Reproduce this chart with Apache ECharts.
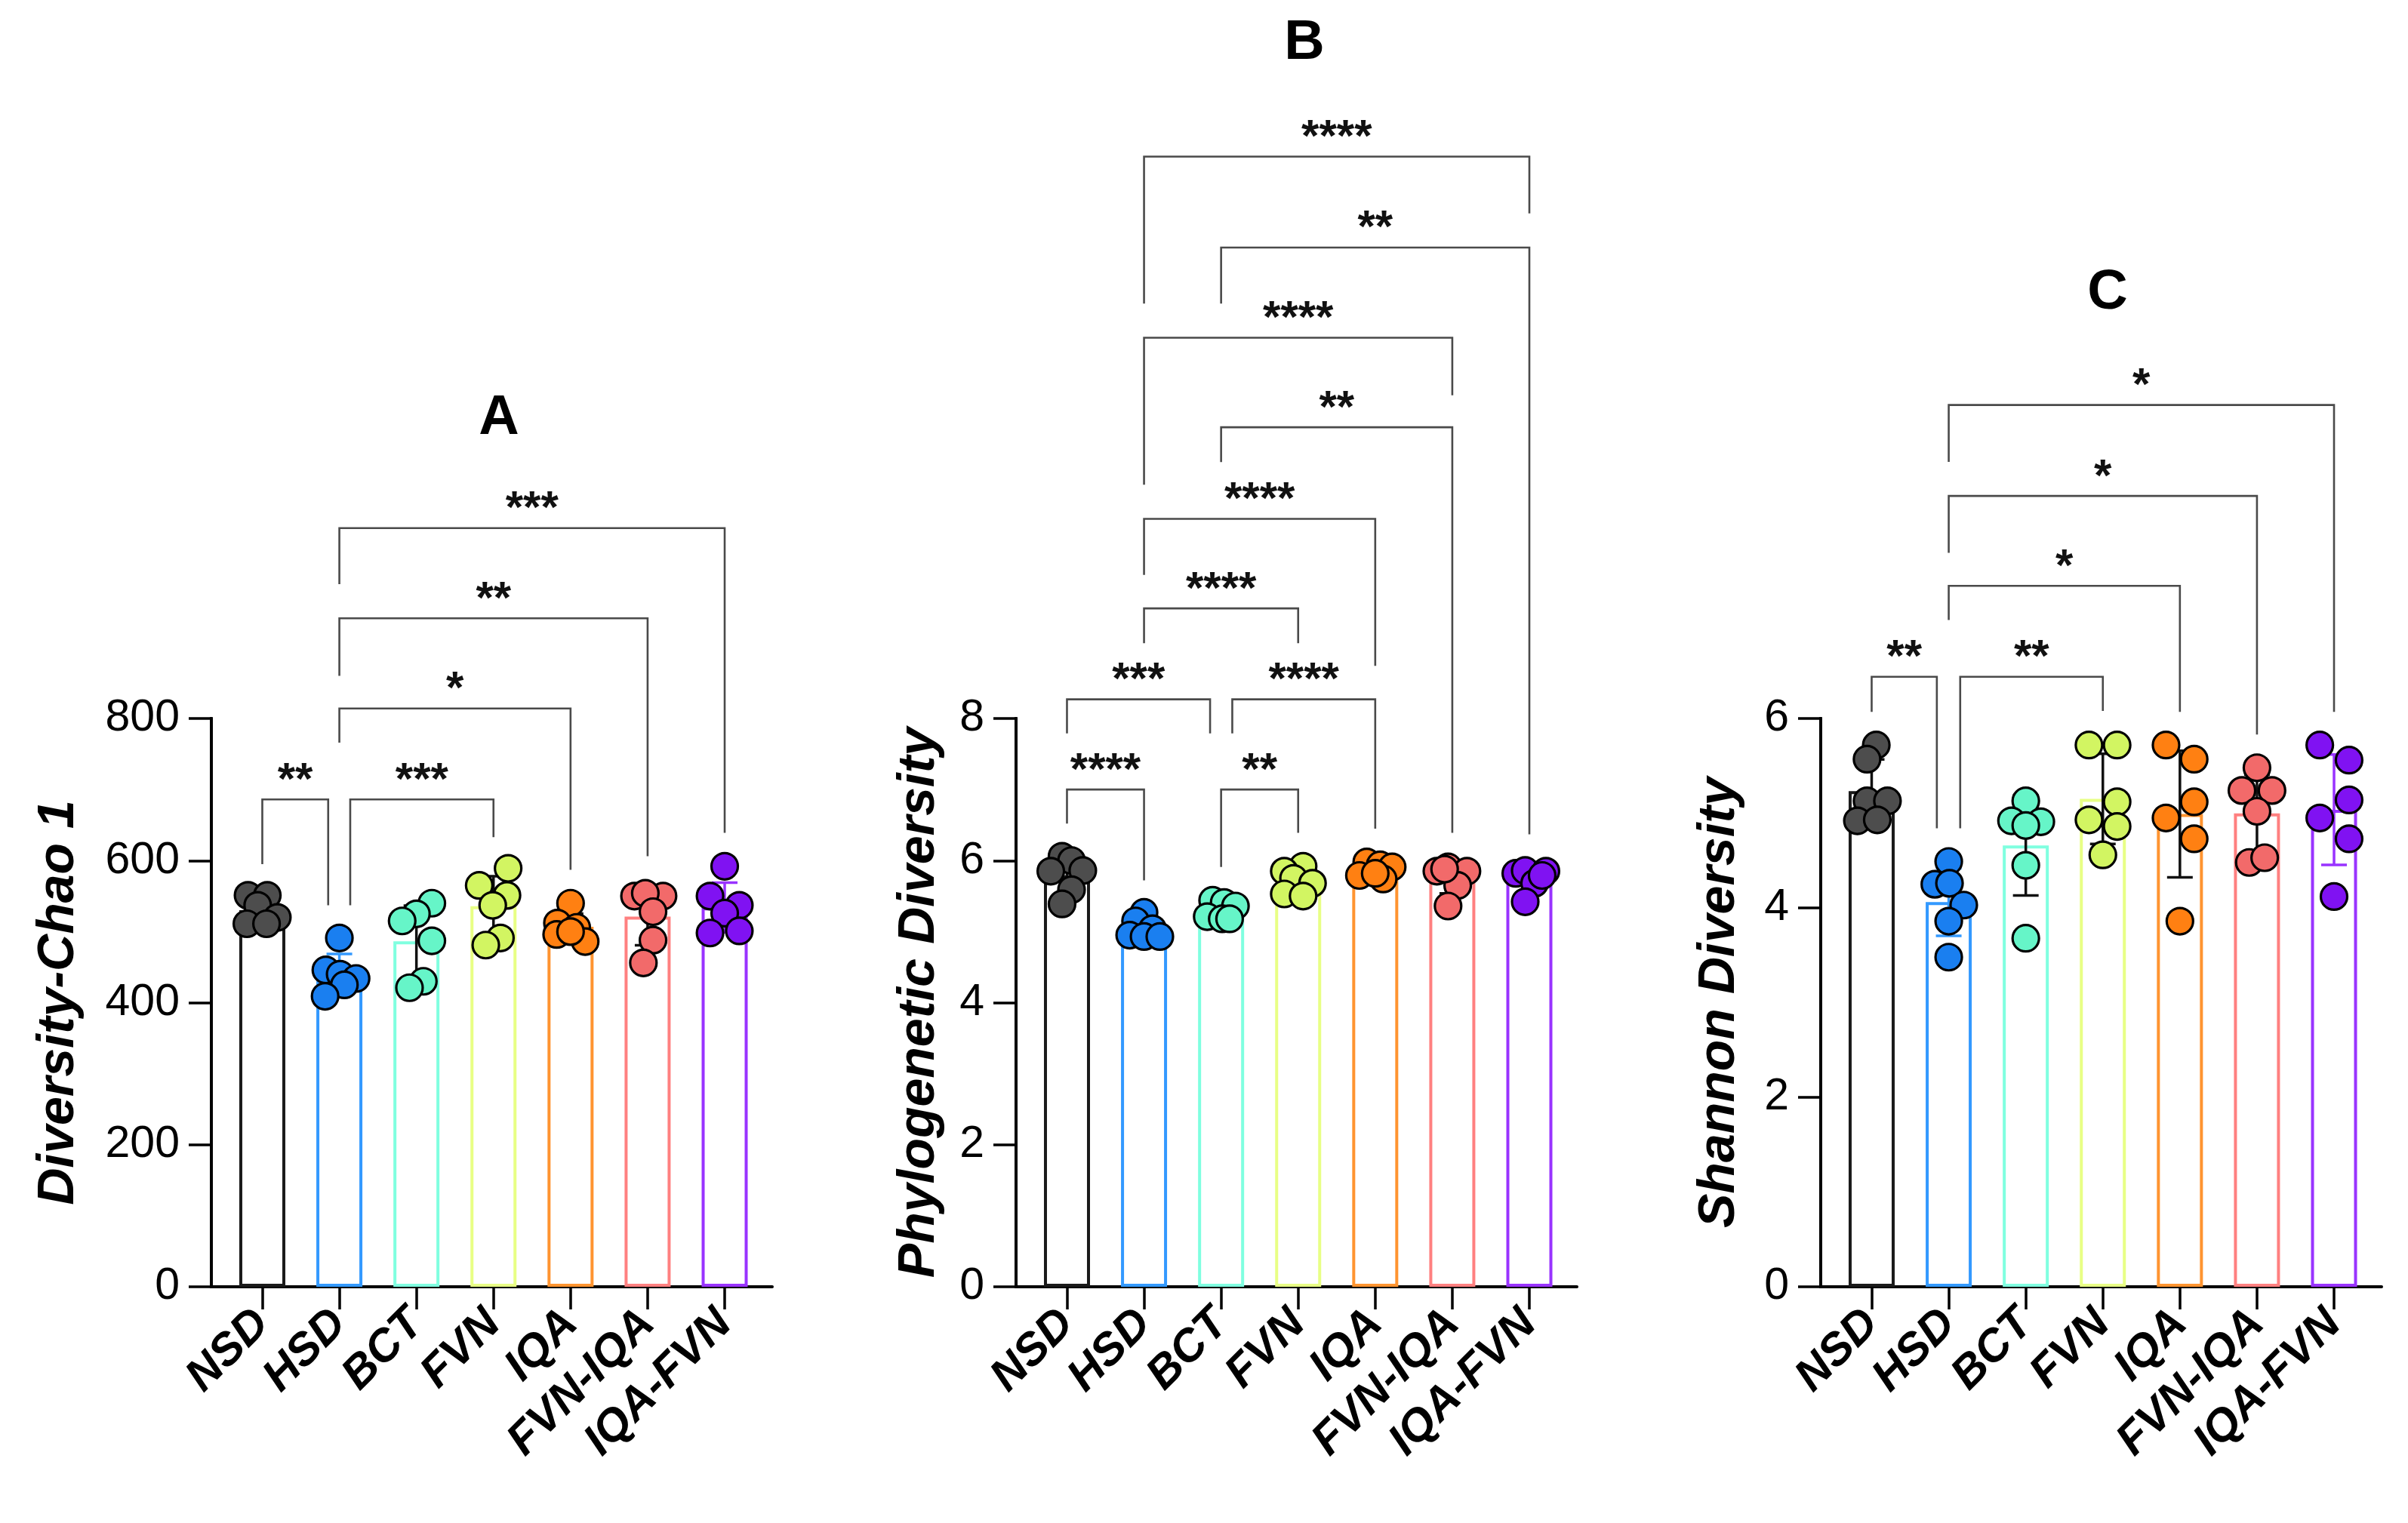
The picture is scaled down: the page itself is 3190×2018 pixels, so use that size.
<!DOCTYPE html>
<html><head><meta charset="utf-8">
<script src="https://cdn.jsdelivr.net/npm/echarts@6/dist/echarts.min.js"></script>
<style>html,body{margin:0;padding:0;background:#fff}#c{width:3190px;height:2018px}</style>
</head><body><div id="c"></div>
<script>
// ---------------- DATA ----------------
const categories = ['NSD', 'HSD', 'BCT', 'FVN', 'IQA', 'FVN-IQA', 'IQA-FVN'];

// Panel A: Diversity-Chao 1 (6 animals per group)
const chao1Values = [
  [551, 551, 537, 520, 511, 511],
  [491, 446, 440, 434, 425, 409],
  [540, 525, 515, 487, 430, 421],
  [589, 565, 551, 537, 491, 481],
  [540, 512, 506, 496, 486, 500],
  [550, 550, 554, 528, 488, 456],
  [592, 550, 537, 526, 498, 501]
];
const chao1Jitter = [
  [-0.185, 0.065, -0.06, 0.195, -0.2, 0.055],
  [0, -0.175, 0.01, 0.217, 0.065, -0.185],
  [0.2, 0, -0.185, 0.2, 0.09, -0.09],
  [0.19, -0.185, 0.175, -0.01, 0.09, -0.1],
  [0, -0.17, 0.08, -0.18, 0.19, 0.0],
  [-0.17, 0.2, -0.03, 0.07, 0.07, -0.055],
  [0, -0.19, 0.19, 0, -0.19, 0.19]
];
// [from, to, bracket height, left leg end, right leg end, label]
const chao1Brackets = [
  [0, 0.855, 686, 595, 537, '**'],
  [1.141, 3, 686, 537, 633, '***'],
  [1, 4, 814, 766, 587, '*'],
  [1, 5, 941, 860, 606, '**'],
  [1, 6, 1068, 989, 639, '***']
];

// Panel B: Phylogenetic Diversity
const pdValues = [
  [6.06, 6.00, 5.85, 5.86, 5.59, 5.39],
  [5.27, 5.15, 5.04, 4.95, 4.93, 4.93],
  [5.44, 5.41, 5.36, 5.21, 5.18, 5.18],
  [5.92, 5.85, 5.75, 5.68, 5.53, 5.50],
  [5.98, 5.94, 5.91, 5.79, 5.74, 5.82],
  [5.91, 5.85, 5.85, 5.65, 5.36, 5.88],
  [5.82, 5.86, 5.85, 5.68, 5.42, 5.79]
];
const pdJitter = [
  [-0.064, 0.059, -0.21, 0.205, 0.059, -0.064],
  [0, -0.11, 0.11, -0.186, 0, 0.205],
  [-0.11, 0.04, 0.186, -0.18, 0.015, 0.11],
  [0.064, -0.18, -0.06, 0.186, -0.18, 0.064],
  [-0.11, 0.064, 0.22, -0.205, 0.103, 0],
  [-0.055, -0.2, 0.19, 0.07, -0.055, -0.1],
  [-0.176, -0.054, 0.215, 0.068, -0.054, 0.166]
];
const pdBrackets = [
  [0, 1, 7.00, 6.52, 5.72, '****'],
  [2, 3, 7.00, 5.91, 6.39, '**'],
  [0, 1.857, 8.27, 7.79, 7.79, '***'],
  [2.145, 4, 8.27, 7.79, 6.45, '****'],
  [1, 3, 9.55, 9.06, 9.06, '****'],
  [1, 4, 10.81, 10.02, 8.74, '****'],
  [2, 5, 12.10, 11.61, 6.39, '**'],
  [1, 5, 13.36, 11.29, 12.55, '****'],
  [2, 6, 14.63, 13.84, 6.37, '**'],
  [1, 6, 15.91, 13.84, 15.11, '****']
];

// Panel C: Shannon Diversity
const shannonValues = [
  [5.72, 5.57, 5.13, 5.13, 4.92, 4.93],
  [4.49, 4.25, 4.26, 4.03, 3.86, 3.48],
  [5.13, 4.92, 4.91, 4.87, 4.45, 3.68],
  [5.72, 5.72, 5.12, 4.93, 4.86, 4.56],
  [5.72, 5.57, 5.12, 4.95, 4.73, 3.86],
  [5.48, 5.24, 5.24, 5.02, 4.48, 4.53],
  [5.72, 5.56, 5.14, 4.95, 4.73, 4.12]
];
const shannonJitter = [
  [0.06, -0.06, -0.06, 0.205, -0.185, 0.073],
  [0, -0.18, 0.01, 0.195, 0, 0],
  [0, -0.185, 0.195, 0, 0, 0],
  [-0.18, 0.185, 0.185, -0.18, 0.185, 0],
  [-0.18, 0.185, 0.185, -0.18, 0.185, 0],
  [0, -0.195, 0.195, 0, -0.1, 0.1],
  [-0.185, 0.195, 0.195, -0.185, 0.195, 0]
];
const shannonBrackets = [
  [0, 0.846, 6.44, 6.07, 4.84, '**'],
  [1.149, 3, 6.44, 4.84, 6.08, '**'],
  [1, 4, 7.40, 7.04, 6.07, '*'],
  [1, 5, 8.35, 7.75, 5.83, '*'],
  [1, 6, 9.31, 8.71, 6.07, '*']
];

const chao1Ticks = { max: 800, interval: 200 };
const pdTicks = { max: 8, interval: 2 };
const shannonTicks = { max: 6, interval: 2 };

// ---------------- STYLE ----------------
const FONT = "'Liberation Sans', Arial, Helvetica, sans-serif";
const dotColors = ['#4d4d4d', '#1a7ff0', '#66f5c8', '#d2f562', '#ff8012', '#f26a6a', '#8012f2'];
const barColors = ['#1a1a1a', '#3399ff', '#80ffe0', '#e8ff85', '#ff9430', '#ff8080', '#9933ff'];
const errColors = ['#111', '#3399ff', '#111', '#111', '#111', '#111', '#9933ff'];
const X_MIN = -0.661, X_MAX = 6.617;

const panels = [
  { title: 'A', name: 'Diversity-Chao 1', values: chao1Values, jitter: chao1Jitter, brackets: chao1Brackets, ticks: chao1Ticks, left: 280, nameGap: 168, titlePos: [656, 553] },
  { title: 'B', name: 'Phylogenetic Diversity', values: pdValues, jitter: pdJitter, brackets: pdBrackets, ticks: pdTicks, left: 1346, nameGap: 94, titlePos: [1723, 56] },
  { title: 'C', name: 'Shannon Diversity', values: shannonValues, jitter: shannonJitter, brackets: shannonBrackets, ticks: shannonTicks, left: 2412, nameGap: 100, titlePos: [2787, 387] }
];

function mean(a) { return a.reduce((s, v) => s + v, 0) / a.length; }
function sd(a) { const m = mean(a); return Math.sqrt(a.reduce((s, v) => s + (v - m) * (v - m), 0) / (a.length - 1)); }

const catIdx = categories.map((c, i) => i);
const grids = [], xAxes = [], yAxes = [], series = [], titles = [];

panels.forEach((p, g) => {
  grids.push({ left: p.left, top: 952, width: 743, height: 753, containLabel: false });
  xAxes.push({
    gridIndex: g, type: 'value', min: X_MIN, max: X_MAX,
    axisLine: { show: true, onZero: false, lineStyle: { color: '#000', width: 4 } },
    axisTick: { show: true, customValues: catIdx, length: 30, lineStyle: { color: '#000', width: 3.5 } },
    axisLabel: {
      customValues: catIdx, rotate: 45, margin: 40,
      formatter: v => categories[Math.round(v)] || '',
      fontSize: 60, fontWeight: 'bold', fontStyle: 'italic', color: '#000', fontFamily: FONT
    },
    splitLine: { show: false }
  });
  yAxes.push({
    gridIndex: g, type: 'value', min: 0, max: p.ticks.max, interval: p.ticks.interval, position: 'left', z: 6,
    name: p.name, nameLocation: 'middle', nameGap: p.nameGap,
    nameTextStyle: { fontSize: 68, fontWeight: 'bold', fontStyle: 'italic', color: '#000', fontFamily: FONT },
    axisLine: { show: true, onZero: false, lineStyle: { color: '#000', width: 4 } },
    axisTick: { show: true, length: 30, lineStyle: { color: '#000', width: 3.5 } },
    axisLabel: { fontSize: 59, color: '#000', margin: 42, fontFamily: FONT },
    splitLine: { show: false }
  });
  titles.push({
    text: p.title, left: p.titlePos[0], top: p.titlePos[1] - 40, textAlign: 'center',
    textStyle: { fontSize: 74, fontWeight: 'bold', color: '#000', fontFamily: FONT }
  });

  const means = p.values.map(mean);
  const sds = p.values.map(sd);

  // vertical axis line (drawn through the axis scales)
  series.push({
    type: 'custom', xAxisIndex: g, yAxisIndex: g, z: 6, silent: true, clip: false,
    data: [[X_MIN, 0, p.ticks.max]],
    renderItem: (params, api) => {
      const a = api.coord([api.value(0), api.value(1)]), b = api.coord([api.value(0), api.value(2)]);
      return { type: 'line', shape: { x1: a[0], y1: a[1] + 2, x2: b[0], y2: b[1] - 1.75 }, style: { stroke: '#000', lineWidth: 4 } };
    }
  });

  series.push({
    type: 'bar', xAxisIndex: g, yAxisIndex: g, barWidth: 61, silent: true, z: 2,
    data: means.map((m, i) => ({ value: [i, m], itemStyle: { color: '#fff', borderColor: barColors[i], borderWidth: 4 } }))
  });

  series.push({
    type: 'custom', xAxisIndex: g, yAxisIndex: g, z: 3, silent: true, clip: false,
    data: means.map((m, i) => [i, m, sds[i]]),
    renderItem: (params, api) => {
      const x = api.value(0), m = api.value(1), s = api.value(2);
      const top = api.coord([x, m + s]), bot = api.coord([x, m - s]);
      const col = errColors[params.dataIndex];
      const st = { stroke: col, lineWidth: 3.5 };
      return { type: 'group', children: [
        { type: 'line', shape: { x1: top[0], y1: top[1], x2: bot[0], y2: bot[1] }, style: st },
        { type: 'line', shape: { x1: top[0] - 17, y1: top[1], x2: top[0] + 17, y2: top[1] }, style: st },
        { type: 'line', shape: { x1: bot[0] - 17, y1: bot[1], x2: bot[0] + 17, y2: bot[1] }, style: st }
      ]};
    }
  });

  const pts = [];
  p.values.forEach((arr, i) => arr.forEach((v, k) => {
    pts.push({ value: [i + p.jitter[i][k], v], itemStyle: { color: dotColors[i] } });
  }));
  series.push({
    type: 'scatter', xAxisIndex: g, yAxisIndex: g, z: 4, silent: true,
    symbolSize: 35, itemStyle: { borderColor: '#000', borderWidth: 3.2, opacity: 1 },
    data: pts
  });

  const br = p.brackets;
  series.push({
    type: 'custom', xAxisIndex: g, yAxisIndex: g, z: 5, silent: true, clip: false,
    data: br.map(b => [b[0], b[1], b[2], b[3], b[4]]),
    renderItem: (params, api) => {
      const b = br[params.dataIndex];
      const l = api.coord([b[0], b[3]]), p1 = api.coord([b[0], b[2]]);
      const p2 = api.coord([b[1], b[2]]), r = api.coord([b[1], b[4]]);
      return { type: 'group', children: [
        { type: 'polyline', shape: { points: [l, p1, p2, r] }, style: { stroke: '#4a4a4a', lineWidth: 2.6, fill: null } },
        { type: 'text', style: { x: (p1[0] + p2[0]) / 2, y: p1[1] - 24, text: b[5], align: 'center', verticalAlign: 'middle',
          font: "bold 60px 'Liberation Sans', Arial, sans-serif", fill: '#111' } }
      ]};
    }
  });
});

const chart = echarts.init(document.getElementById('c'), null, { renderer: 'canvas' });
chart.setOption({
  backgroundColor: '#fff', animation: false,
  title: titles, grid: grids, xAxis: xAxes, yAxis: yAxes, series: series
});
</script></body></html>
